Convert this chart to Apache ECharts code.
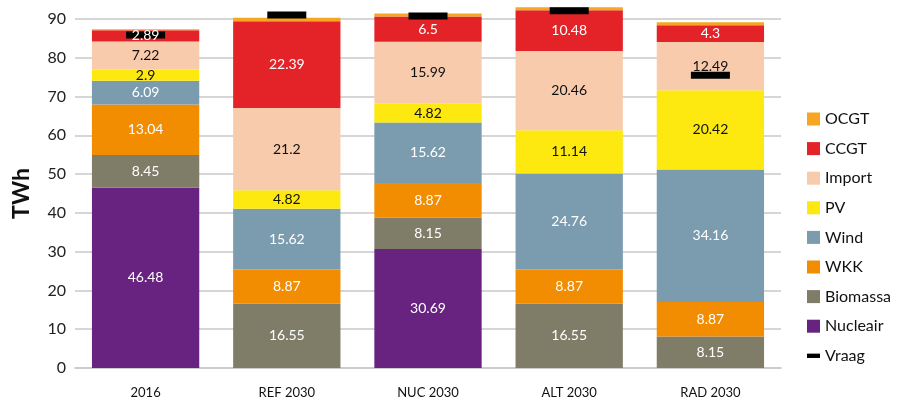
<!DOCTYPE html>
<html>
<head>
<meta charset="utf-8">
<script src="https://cdn.jsdelivr.net/npm/echarts@6/dist/echarts.min.js"></script>
<style>
  html, body { margin: 0; padding: 0; background: #fff; }
  #chart { width: 904px; height: 402px; }
</style>
</head>
<body>
<div id="chart"></div>
<script>
var categories = ['2016', 'REF 2030', 'NUC 2030', 'ALT 2030', 'RAD 2030'];
var nucleair = [46.48, 0, 30.69, 0, 0];
var biomassa = [8.45, 16.55, 8.15, 16.55, 8.15];
var wkk = [13.04, 8.87, 8.87, 8.87, 8.87];
var wind = [6.09, 15.62, 15.62, 24.76, 34.16];
var pv = [2.9, 4.82, 4.82, 11.14, 20.42];
var importe = [7.22, 21.2, 15.99, 20.46, 12.49];
var ccgt = [2.89, 22.39, 6.5, 10.48, 4.3];
var ocgt = [0.3, 0.9, 0.8, 0.8, 0.8];
var vraag = [85.9, 91, 90.8, 92.1, 75.5];
var yTicks = [0, 10, 20, 30, 40, 50, 60, 70, 80, 90];

var font = 'Lato';

var layers = [
    ['Nucleair', nucleair, '#68227f', '#fff', true],
    ['Biomassa', biomassa, '#7f7c68', '#fff', true],
    ['WKK', wkk, '#f28c00', '#fff', true],
    ['Wind', wind, '#7b9caf', '#fff', true],
    ['PV', pv, '#fde910', '#111', true],
    ['Import', importe, '#f8cbad', '#111', true],
    ['CCGT', ccgt, '#e42328', '#fff', true],
    ['OCGT', ocgt, '#f6a623', '#111', false]
];

var series = [];
// coloured bars
layers.forEach(function (l) {
    series.push({
        name: l[0],
        type: 'bar',
        stack: 'total',
        barWidth: '76%',
        barGap: '-100%',
        clip: false,
        z: 2,
        data: l[1],
        itemStyle: { color: l[2] }
    });
});
// demand markers
series.push({
    name: 'Vraag',
    type: 'scatter',
    symbol: 'rect',
    symbolSize: [39, 7],
    itemStyle: { color: '#000', opacity: 1 },
    clip: false,
    z: 3,
    data: vraag
});
// transparent copy that carries the value labels above the markers
layers.forEach(function (l) {
    series.push({
        name: l[0] + '_lbl',
        type: 'bar',
        stack: 'labels',
        barWidth: '76%',
        barGap: '-100%',
        clip: false,
        silent: true,
        z: 4,
        data: l[1],
        itemStyle: { color: 'rgba(0,0,0,0)' },
        label: {
            show: l[4],
            position: 'inside',
            color: l[3],
            fontFamily: font,
            fontSize: 14,
            formatter: function (p) { return p.value > 0 ? String(p.value) : ''; }
        }
    });
});

var myChart = echarts.init(document.getElementById('chart'));
var option = {
    animation: false,
    grid: { left: 75, right: 123, top: 19, bottom: 34 },
    legend: {
        orient: 'vertical',
        left: 802,
        top: 106,
        itemWidth: 13,
        itemHeight: 13,
        itemGap: 13.6,
        textStyle: { fontFamily: font, fontSize: 16, color: '#111' },
        data: [
            { name: 'OCGT', icon: 'rect' },
            { name: 'CCGT', icon: 'rect' },
            { name: 'Import', icon: 'rect' },
            { name: 'PV', icon: 'rect' },
            { name: 'Wind', icon: 'rect' },
            { name: 'WKK', icon: 'rect' },
            { name: 'Biomassa', icon: 'rect' },
            { name: 'Nucleair', icon: 'rect' },
            { name: 'Vraag', icon: 'path://M0,5 L12,5 L12,9 L0,9 Z' }
        ]
    },
    xAxis: {
        type: 'category',
        data: categories,
        axisLine: { lineStyle: { color: '#c8c8c8', width: 1.5 } },
        axisTick: { show: false },
        axisLabel: { fontFamily: font, fontSize: 13, color: '#111', margin: 18 }
    },
    yAxis: {
        type: 'value',
        min: yTicks[0],
        max: yTicks[yTicks.length - 1],
        interval: 10,
        name: 'TWh',
        nameLocation: 'middle',
        nameGap: 42,
        nameTextStyle: { fontFamily: font, fontSize: 23, fontWeight: 'bold', color: '#111' },
        axisLine: { show: false },
        axisTick: { show: false },
        axisLabel: { fontFamily: font, fontSize: 16, color: '#222', margin: 9 },
        splitLine: { lineStyle: { color: '#c8c8c8', width: 1.5 } }
    },
    series: series
};
myChart.setOption(option);
</script>
</body>
</html>
